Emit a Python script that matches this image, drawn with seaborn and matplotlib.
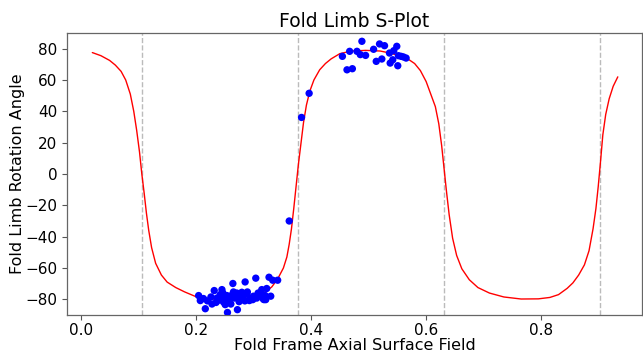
import numpy as np
import pandas as pd
import matplotlib
matplotlib.use("Agg")
import matplotlib.pyplot as plt
import seaborn as sns

# fitted S-plot curve
curve_x = [0.020, 0.035, 0.050, 0.060, 0.070, 0.078, 0.086, 0.092, 0.097, 0.102,
           0.106, 0.110, 0.114, 0.118, 0.123, 0.130, 0.140, 0.150, 0.165, 0.180,
           0.200, 0.220, 0.245, 0.270, 0.295, 0.310, 0.322, 0.332, 0.342, 0.352,
           0.358, 0.362, 0.366, 0.370, 0.374, 0.378, 0.382, 0.387, 0.392, 0.398,
           0.405, 0.415, 0.425, 0.435, 0.450, 0.470, 0.495, 0.520, 0.540, 0.555,
           0.570, 0.580, 0.590, 0.600, 0.608, 0.616, 0.622, 0.627, 0.631, 0.635,
           0.640, 0.646, 0.653, 0.662, 0.675, 0.690, 0.710, 0.735, 0.765, 0.795,
           0.815, 0.830, 0.845, 0.855, 0.865, 0.875, 0.883, 0.890, 0.895, 0.899,
           0.903, 0.907, 0.912, 0.918, 0.925, 0.933]
curve_y = [77.5, 75.5, 72.5, 69.5, 65.5, 60.0, 51.0, 40.0, 28.0, 14.0,
           0.0, -12.0, -25.0, -36.0, -47.0, -57.0, -64.5, -69.0, -72.5, -75.2,
           -78.3, -79.6, -80.2, -80.0, -79.0, -77.5, -75.0, -72.0, -67.0, -60.0,
           -53.0, -45.0, -35.0, -22.0, -8.0, 6.0, 18.0, 33.0, 44.0, 53.0,
           60.0, 66.5, 70.5, 73.5, 76.8, 78.5, 78.9, 78.5, 77.0, 75.0,
           73.0, 70.5, 66.0, 59.0, 51.0, 43.0, 32.0, 18.0, 4.0, -10.0,
           -26.0, -41.0, -52.0, -60.5, -67.5, -72.5, -76.0, -78.5, -79.8, -79.7,
           -78.8, -77.0, -73.0, -69.5, -64.5, -58.0, -49.0, -35.0, -22.0, -8.0,
           8.0, 25.0, 38.0, 48.0, 56.0, 62.0]

# observed limb rotation angles
obs_x = [0.2047, 0.2076, 0.2163, 0.2261, 0.2279, 0.2318, 0.2365, 0.2422, 0.2452, 0.2479,
         0.2509, 0.2548, 0.2583, 0.2607, 0.2642, 0.2652, 0.2721, 0.2768, 0.2798, 0.2855,
         0.2894, 0.2929, 0.2988, 0.3040, 0.3057, 0.3114, 0.3171, 0.3213, 0.3230, 0.3270,
         0.3334, 0.3420, 0.2469, 0.2538, 0.2670, 0.2711, 0.2825, 0.2884, 0.2941, 0.3144,
         0.3183, 0.2130, 0.2200, 0.2350, 0.2400, 0.2500, 0.2620, 0.2750, 0.2850, 0.3000,
         0.3080, 0.3200, 0.3300,
         0.3621, 0.3835, 0.3967,
         0.4545, 0.4625, 0.4671, 0.4718, 0.4798, 0.4856, 0.4884, 0.4948, 0.5087, 0.5133,
         0.5190, 0.5230, 0.5277, 0.5363, 0.5375, 0.5420, 0.5438, 0.5490, 0.5507, 0.5519,
         0.5566, 0.5606, 0.5652]
obs_y = [-77.6, -80.8, -86.0, -78.5, -83.0, -74.4, -79.2, -77.0, -73.8, -81.7,
         -83.4, -88.4, -80.2, -83.0, -69.9, -75.3, -86.6, -79.2, -75.5, -68.9,
         -75.3, -80.8, -80.2, -66.5, -79.2, -77.0, -79.8, -80.2, -73.1, -65.9,
         -67.8, -67.8, -76.0, -77.6, -79.2, -76.0, -78.1, -76.0, -79.2, -73.8,
         -80.2, -79.5, -81.0, -82.0, -80.5, -78.5, -77.5, -81.5, -81.0, -78.0,
         -76.0, -77.5, -78.0,
         -30.0, 36.1, 51.5,
         75.1, 66.5, 78.3, 67.2, 78.3, 76.2, 84.7, 75.7, 79.6, 71.9,
         83.0, 73.4, 81.9, 77.2, 70.8, 72.9, 78.7, 81.5, 69.1, 75.5,
         75.1, 74.7, 74.0]

# fold hinges
hinge_x = [0.1055, 0.377, 0.6315, 0.9026]

curve = pd.DataFrame({"x": curve_x, "y": curve_y})
obs = pd.DataFrame({"x": obs_x, "y": obs_y})

sns.set_style("ticks")
plt.rcParams["font.family"] = ["DejaVu Sans"]
plt.rcParams["text.color"] = "black"
plt.rcParams["axes.labelcolor"] = "black"

fig = plt.figure(figsize=(6.43, 3.54), dpi=100)
ax = fig.add_axes([0.1042, 0.1102, 0.8942, 0.7966])

for h in hinge_x:
    ax.axvline(h, color="#bbbbbb", linestyle="--", linewidth=1.0, zorder=1)

sns.lineplot(data=curve, x="x", y="y", sort=False, estimator=None,
             color="red", linewidth=1.0, ax=ax, zorder=2)
sns.scatterplot(data=obs, x="x", y="y", color="blue", s=28,
                edgecolor="none", ax=ax, zorder=3)

ax.set_xlim(-0.024, 0.975)
ax.set_ylim(-90, 90)
ax.set_xticks([0.0, 0.2, 0.4, 0.6, 0.8])
ax.set_yticks([-80, -60, -40, -20, 0, 20, 40, 60, 80])
ax.tick_params(labelsize=11, color="#555555", labelcolor="black", length=3.5, width=0.8)
ax.tick_params(axis="x", pad=2.5)
for sp in ax.spines.values():
    sp.set_color("#666666")
    sp.set_linewidth(0.9)
ax.set_xlabel("Fold Frame Axial Surface Field", fontsize=11.5, labelpad=0)
ax.set_ylabel("Fold Limb Rotation Angle", fontsize=11.5, labelpad=0)
ax.set_title("Fold Limb S-Plot", fontsize=13.5, pad=4)

fig.savefig("out.png", dpi=100)
